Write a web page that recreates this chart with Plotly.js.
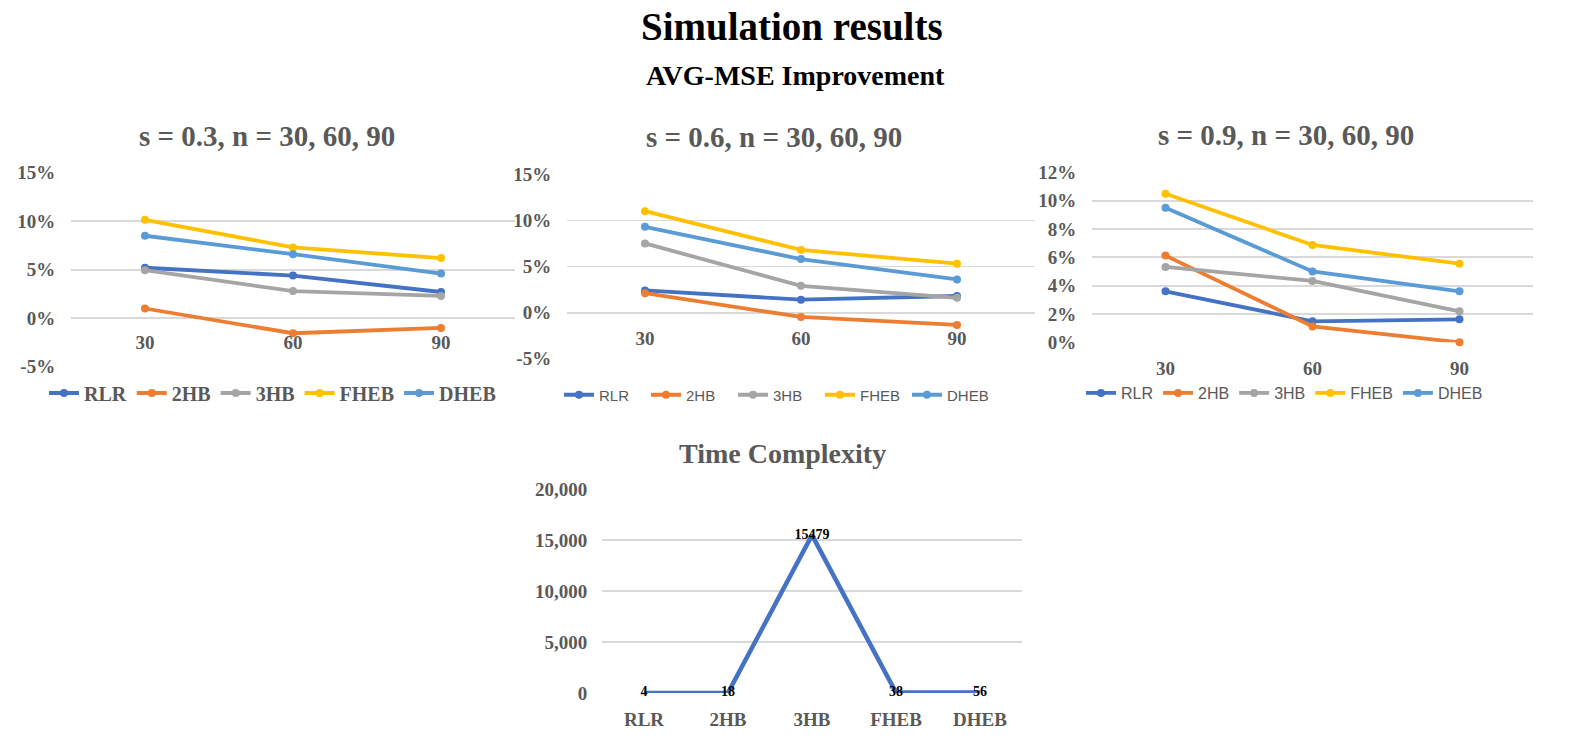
<!DOCTYPE html>
<html>
<head>
<meta charset="utf-8">
<script src="https://cdn.plot.ly/plotly-3.0.1.min.js"></script>
<style>
  html, body { margin: 0; padding: 0; background: #fff; }
  #chart { width: 1574px; height: 744px; }
</style>
</head>
<body>
<div id="chart"></div>
<script>
// Chart data
const sampleSizes = ['30', '60', '90'];
const methods = ['RLR', '2HB', '3HB', 'FHEB', 'DHEB'];

// AVG-MSE improvement, one row per method (RLR, 2HB, 3HB, FHEB, DHEB)
const improveS03 = [
    [0.052, 0.044, 0.027],
    [0.010, -0.0155, -0.010],
    [0.0495, 0.028, 0.023],
    [0.1014, 0.073, 0.062],
    [0.085, 0.066, 0.046]
];
const improveS06 = [
    [0.024, 0.014, 0.018],
    [0.021, -0.0047, -0.0134],
    [0.075, 0.029, 0.016],
    [0.110, 0.068, 0.053],
    [0.093, 0.058, 0.036]
];
const improveS09 = [
    [0.036, 0.0148, 0.0162],
    [0.0612, 0.0112, 0.000],
    [0.0532, 0.0433, 0.0219],
    [0.1049, 0.0687, 0.0555],
    [0.095, 0.050, 0.036]
];

// y tick values and their labels (Excel style, plain hyphen)
const pctTicks15 = [-0.05, 0, 0.05, 0.10, 0.15];
const pctLabels15 = ['-5%', '0%', '5%', '10%', '15%'];
const pctTicks12 = [0, 0.02, 0.04, 0.06, 0.08, 0.10, 0.12];
const pctLabels12 = ['0%', '2%', '4%', '6%', '8%', '10%', '12%'];

// Time complexity per method
const timeCost = [4, 18, 15479, 38, 56];

const seriesColors = ['#4472C4', '#ED7D31', '#A5A5A5', '#FFC000', '#5B9BD5'];
const gray = '#595959';
const gridGray = '#D9D9D9';
const serif = '"Liberation Serif", "Times New Roman", serif';
const sans = '"Liberation Sans", Arial, sans-serif';

const W = 1574, H = 744;
// pixel helpers -> paper coords
const px = x => x / W;
const py = y => 1 - y / H;

// panel boxes in pixels: [left, right, top, bottom]
const panels = [
    { box: [71, 515, 172.7, 366.7], range: [-0.05, 0.15], ticks: pctTicks15, labels: pctLabels15, gap: 7, data: improveS03 },
    { box: [567, 1035, 174.3, 358.7], range: [-0.05, 0.15], ticks: pctTicks15, labels: pctLabels15, gap: 9, data: improveS06 },
    { box: [1092, 1533, 172.3, 342.3], range: [0, 0.12], ticks: pctTicks12, labels: pctLabels12, gap: 9, data: improveS09 }
];

const traces = [];
const layout = {
    width: W,
    height: H,
    margin: { l: 0, r: 0, t: 0, b: 0 },
    paper_bgcolor: '#ffffff',
    plot_bgcolor: '#ffffff',
    showlegend: true,
    annotations: []
};

panels.forEach((p, i) => {
    const n = i + 1;
    const xName = 'x' + n, yName = 'y' + n;
    const xKey = 'xaxis' + n, yKey = 'yaxis' + n;
    const legendKey = i === 0 ? 'legend' : 'legend' + n;
    const yDom = [py(p.box[3]), py(p.box[2])];

    p.data.forEach((vals, k) => {
        traces.push({
            type: 'scatter',
            mode: 'lines+markers',
            name: methods[k],
            x: sampleSizes,
            y: vals,
            xaxis: xName,
            yaxis: yName,
            legend: legendKey,
            cliponaxis: false,
            line: { color: seriesColors[k], width: 3.8 },
            marker: { color: seriesColors[k], size: 8 }
        });
    });

    // category axis sits on the 0% line like in Excel
    const zeroFrac = (0 - p.range[0]) / (p.range[1] - p.range[0]);
    layout[xKey] = {
        domain: [px(p.box[0]), px(p.box[1])],
        type: 'category',
        range: [-0.5, 2.5],
        anchor: 'free',
        position: yDom[0] + zeroFrac * (yDom[1] - yDom[0]),
        showgrid: false,
        zeroline: false,
        showline: false,
        ticks: 'outside',
        ticklen: p.gap,
        tickcolor: 'rgba(0,0,0,0)',
        tickfont: { family: serif, size: 19, color: gray, weight: 'bold' },
        fixedrange: true
    };
    layout[yKey] = {
        domain: yDom,
        anchor: xName,
        range: p.range,
        tickmode: 'array',
        tickvals: p.ticks,
        ticktext: p.labels,
        showgrid: true,
        gridcolor: gridGray,
        gridwidth: 1.8,
        zeroline: false,
        showline: false,
        ticks: 'outside',
        ticklen: 11,
        tickcolor: 'rgba(0,0,0,0)',
        tickfont: { family: serif, size: 19, color: gray, weight: 'bold' },
        fixedrange: true
    };
});

// legends under each panel
layout.legend = {
    orientation: 'h', x: px(44), y: py(393), xanchor: 'left', yanchor: 'middle',
    font: { family: serif, size: 20, color: gray, weight: 'bold' },
    bgcolor: 'rgba(0,0,0,0)', traceorder: 'normal'
};
layout.legend2 = {
    orientation: 'h', x: px(559), y: py(395), xanchor: 'left', yanchor: 'middle',
    font: { family: sans, size: 15, color: gray },
    bgcolor: 'rgba(0,0,0,0)', traceorder: 'normal', entrywidth: 42
};
layout.legend3 = {
    orientation: 'h', x: px(1081), y: py(393), xanchor: 'left', yanchor: 'middle',
    font: { family: sans, size: 16, color: gray },
    bgcolor: 'rgba(0,0,0,0)', traceorder: 'normal'
};

// bottom panel: time complexity
traces.push({
    type: 'scatter',
    mode: 'lines+text',
    name: 'Time',
    x: methods,
    y: timeCost,
    text: timeCost.map(String),
    textposition: 'middle center',
    textfont: { family: serif, size: 14, color: '#000000', weight: 'bold' },
    xaxis: 'x4',
    yaxis: 'y4',
    showlegend: false,
    cliponaxis: false,
    line: { color: '#4472C4', width: 4.5 }
});
layout.xaxis4 = {
    domain: [px(602), px(1022)],
    type: 'category',
    range: [-0.5, 4.5],
    anchor: 'y4',
    showgrid: false,
    zeroline: false,
    showline: false,
    ticks: 'outside',
    ticklen: 9,
    tickcolor: 'rgba(0,0,0,0)',
    tickfont: { family: serif, size: 19, color: gray, weight: 'bold' },
    fixedrange: true
};
layout.yaxis4 = {
    domain: [py(693), py(489)],
    anchor: 'x4',
    range: [0, 20000],
    dtick: 5000,
    tickformat: ',',
    showgrid: true,
    gridcolor: gridGray,
    gridwidth: 1.8,
    zeroline: false,
    showline: false,
    ticks: 'outside',
    ticklen: 10,
    tickcolor: 'rgba(0,0,0,0)',
    tickfont: { family: serif, size: 19, color: gray, weight: 'bold' },
    fixedrange: true
};

// titles
function addTitle(text, cx, cy, size, color) {
    layout.annotations.push({
        text: text,
        x: px(cx), y: py(cy),
        xref: 'paper', yref: 'paper',
        xanchor: 'center', yanchor: 'middle',
        showarrow: false,
        font: { family: serif, size: size, color: color, weight: 'bold' }
    });
}
addTitle('Simulation results', 792, 27, 39, '#000000');
addTitle('AVG-MSE Improvement', 795, 75, 28, '#000000');
addTitle('s = 0.3, n = 30, 60, 90', 267, 136, 29, gray);
addTitle('s = 0.6, n = 30, 60, 90', 774, 137, 29, gray);
addTitle('s = 0.9, n = 30, 60, 90', 1286, 135, 29, gray);
addTitle('Time Complexity', 782, 453, 28, gray);

Plotly.newPlot('chart', traces, layout, { staticPlot: true });
</script>
</body>
</html>
